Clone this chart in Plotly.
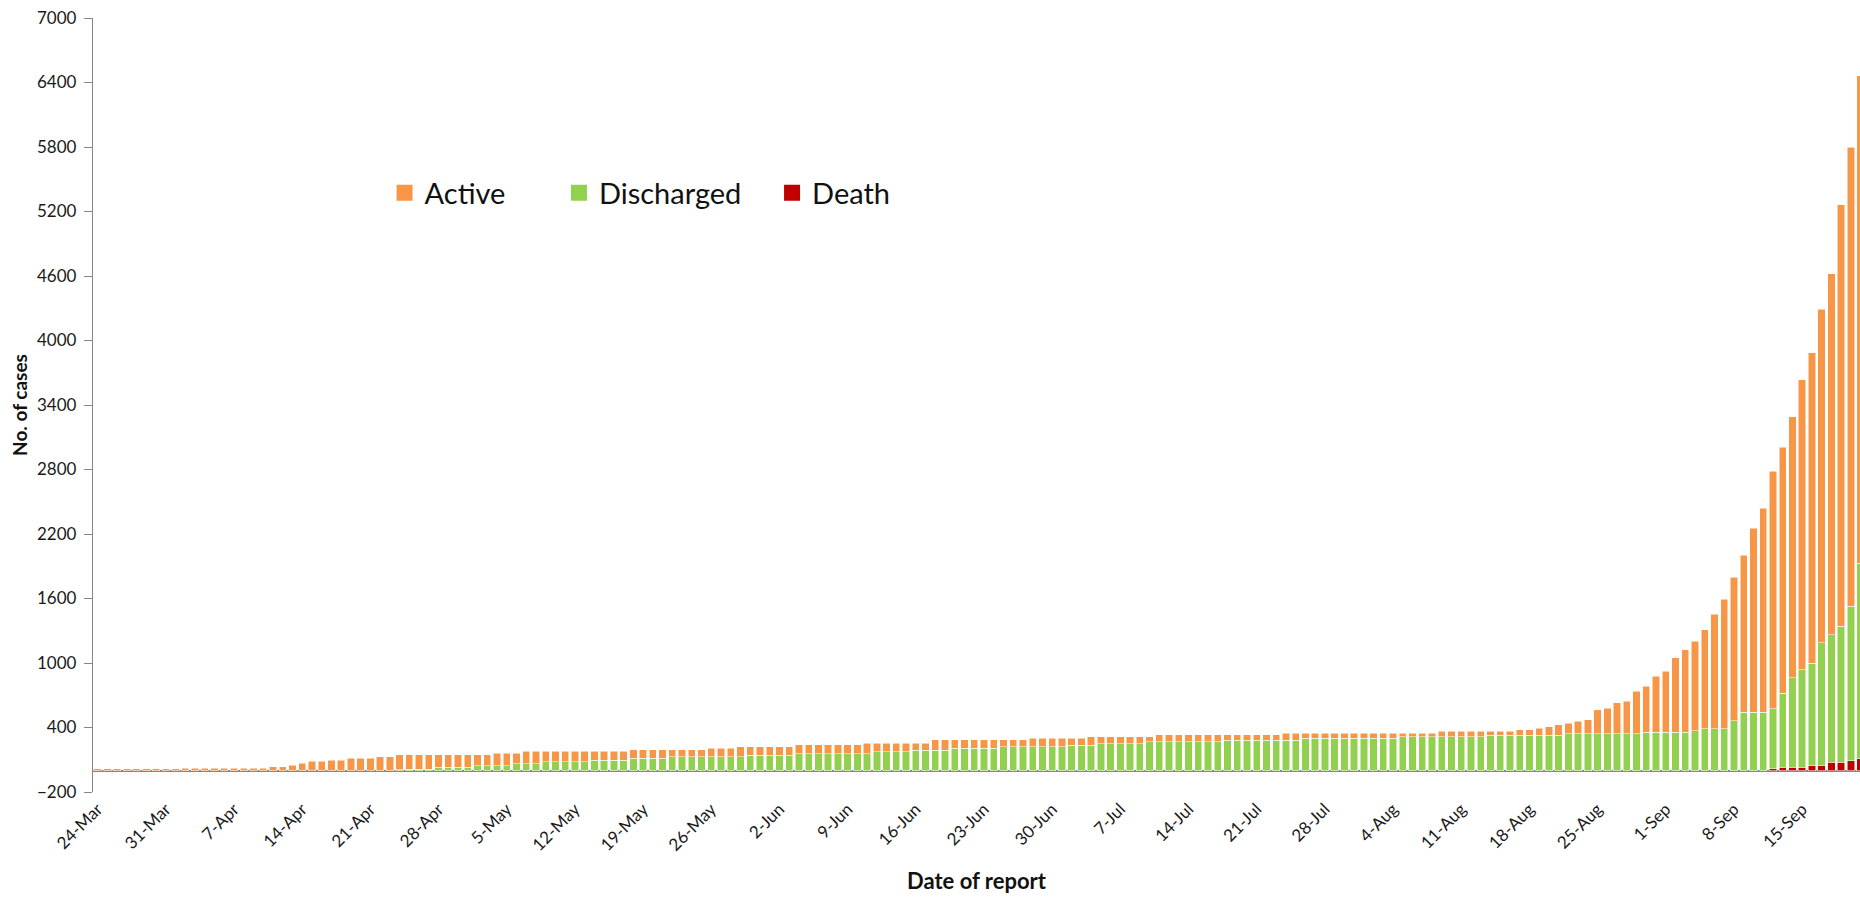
import plotly.graph_objects as go
import pandas as pd

# Categories: daily report dates
dates = pd.date_range("2020-03-24", "2020-09-21", freq="D")
day_labels = [f"{d.day}-{d.strftime('%b')}" for d in dates]
tick_every = 7

# Cumulative totals (bar tops)
total = [
    16, 16, 17, 17, 17, 18, 18, 18, 18, 19, 19, 19, 19, 19, 20, 20, 20, 20,
    34, 34, 50, 68, 84, 84, 96, 96, 112, 112, 112, 127, 127,
    146, 146, 146, 146, 146, 146, 146, 146, 146, 146,
    161, 161, 161,
    177, 177, 177, 177, 177, 177, 177, 177, 177, 177, 177,
    192, 192, 192, 192, 192, 192, 192, 192,
    208, 208, 208,
    223, 223, 223, 223, 223, 223,
    239, 239, 239, 239, 239, 239, 239,
    254, 254, 254, 254, 254, 254, 254,
    285, 285, 285, 285, 285, 285, 285, 285, 285, 285,
    301, 301, 301, 301, 301, 301,
    316, 316, 316, 316, 316, 316, 316,
    332, 332, 332, 332, 332, 332, 332, 332, 332, 332, 332, 332, 332,
    347, 347, 347, 347, 347, 347, 347, 347, 347, 347, 347, 347, 347, 347, 347, 347,
    363, 363, 363, 363, 363, 363, 363, 363,
    378, 378, 394, 409, 425,
    440, 459, 471, 567, 580, 628, 644, 736, 782, 876,
    924, 1048, 1125, 1203, 1311, 1454, 1593, 1798, 2003, 2254,
    2440, 2784, 3007, 3290, 3637, 3888, 4291, 4623, 5265, 5798,
    6465,
]

discharged = [
    0, 0, 0, 0, 0, 0, 0, 0, 0, 0, 0, 0, 0, 0, 0, 0, 0, 0,
    0, 0, 0, 0, 0, 0, 0, 0, 0, 0, 0, 0, 0,
    8, 10, 10, 12,
    31, 31, 31, 31,
    46, 46, 46, 46,
    65, 65, 65,
    81, 81, 81, 81, 81,
    96, 96, 96, 96,
    112, 112, 112, 112,
    127, 127, 127, 127, 127, 127, 127, 127,
    143, 143, 143, 143, 143,
    158, 158, 158, 158, 158, 158, 158, 158,
    174, 174, 174, 174,
    189, 189, 189, 189,
    205, 205, 205, 205, 205,
    220, 220, 220, 220, 220, 220, 220,
    236, 236, 236,
    251, 251, 251, 251, 251,
    267, 267, 267, 267, 267, 267, 267, 267,
    282, 282, 282, 282, 282, 282, 282, 282,
    298, 298, 298, 298, 298, 298, 298, 298, 298, 298,
    313, 313, 313, 313, 313, 313, 313, 313, 313,
    329, 329, 329, 329, 329, 329, 329, 329,
    344, 344, 344, 344, 344, 344, 344, 344,
    357, 357, 357, 357, 357,
    372,
    388, 388, 388,
    465,
    543, 543, 543,
    559, 688, 831, 905, 952, 1141, 1187, 1264, 1435, 1822,
]

death = [0] * 172 + [15, 31, 31, 31, 46, 46, 78, 78, 93, 108]

active = [t - r - d for t, r, d in zip(total, discharged, death)]

idx = list(range(len(dates)))
tickvals = idx[::tick_every]
ticktext = day_labels[::tick_every]

C_ACTIVE = "#F79646"
C_DISCH = "#92D050"
C_DEATH = "#C00000"
FONT = "Lato"
edge = dict(color="rgba(255,255,255,0.65)", width=0.8)

fig = go.Figure()
fig.add_bar(x=idx, y=death, name="Death", marker=dict(color=C_DEATH, line=edge), showlegend=False)
fig.add_bar(x=idx, y=discharged, name="Discharged", marker=dict(color=C_DISCH, line=edge), showlegend=False)
fig.add_bar(x=idx, y=active, name="Active", marker=dict(color=C_ACTIVE, line=edge), showlegend=False)

# legend proxies (one legend each so they can be placed like the original)
for nm, col, lg in [("Active", C_ACTIVE, "legend"), ("Discharged", C_DISCH, "legend2"), ("Death", C_DEATH, "legend3")]:
    fig.add_trace(go.Scatter(x=[None], y=[None], mode="markers", name=nm,
                             marker=dict(symbol="square", size=19, color=col),
                             legend=lg, showlegend=True))

leg_common = dict(xanchor="left", yanchor="middle", bgcolor="rgba(0,0,0,0)",
                  font=dict(family=FONT, size=29, color="#111111"), itemsizing="trace")
LEG_Y = 0.774
fig.update_layout(
    width=1860, height=899,
    margin=dict(l=93, r=0, t=18, b=107),
    paper_bgcolor="white", plot_bgcolor="white",
    barmode="stack", bargap=0.25,
    legend=dict(x=0.1650, y=LEG_Y, **leg_common),
    legend2=dict(x=0.2637, y=LEG_Y, **leg_common),
    legend3=dict(x=0.3843, y=LEG_Y, **leg_common),
    xaxis=dict(
        range=[-0.477, 180.94], tickmode="array", tickvals=tickvals, ticktext=ticktext,
        tickangle=-45, tickfont=dict(family=FONT, size=17, color="#1a1a1a"),
        ticklabelstandoff=3,
        showline=False, showgrid=False, zeroline=False, ticks="",
        title=dict(text="Date of report", font=dict(family=FONT, size=22, color="#111111", weight="bold"),
                   standoff=19),
    ),
    yaxis=dict(
        range=[-200, 7000], tickmode="array", tickvals=list(range(-200, 7001, 600)),
        tickfont=dict(family=FONT, size=17, color="#1a1a1a"),
        showline=True, linecolor="#868686", linewidth=1.3,
        ticks="outside", ticklen=8, tickcolor="#868686", tickwidth=1.2,
        ticklabelstandoff=4,
        showgrid=False, zeroline=True, zerolinecolor="#868686", zerolinewidth=1.6,
        title=dict(text="No. of cases", font=dict(family=FONT, size=19, color="#111111", weight="bold"),
                   standoff=4),
    ),
)

fig.write_html("out.html", config={"displayModeBar": False},
               post_script="document.body.style.margin='0px';")
